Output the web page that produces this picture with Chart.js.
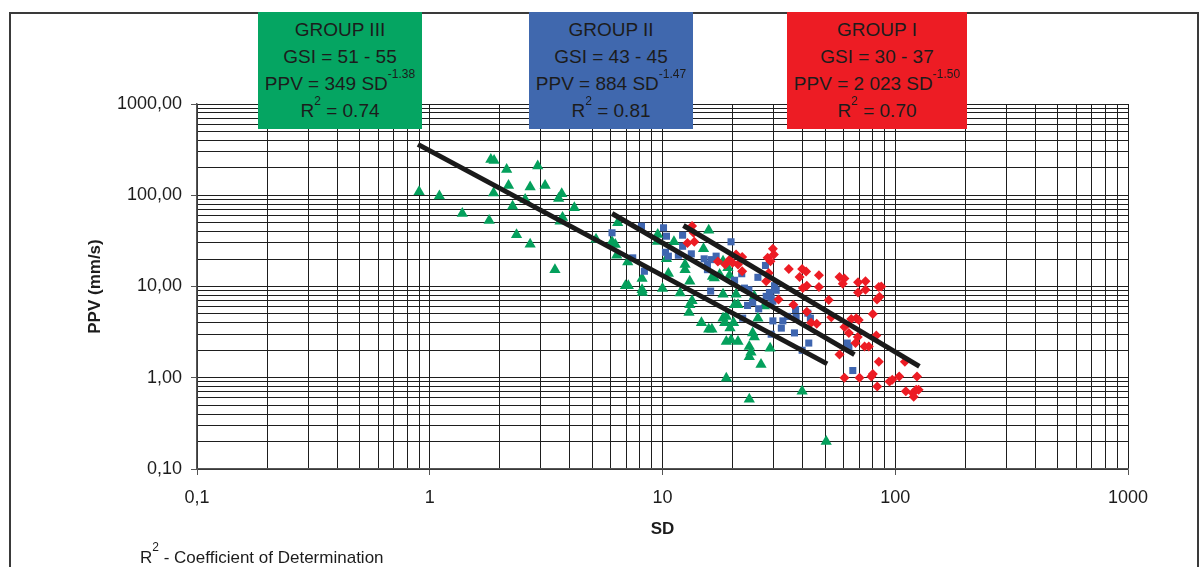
<!DOCTYPE html>
<html lang="en">
<head>
    <meta charset="UTF-8">
    <title>PPV vs SD</title>
    <script src="https://cdn.jsdelivr.net/npm/chart.js"></script>
    <style>
        body {
            margin: 0;
            background: #ffffff;
            font-family: "Liberation Sans", Arial, sans-serif;
        }
        #wrap {
            position: relative;
            width: 1199px;
            height: 567px;
            overflow: hidden;
        }
        #frame {
            position: absolute;
            left: 9px;
            top: 12px;
            width: 1186px;
            height: 600px;
            border: 2px solid #3a3a3a;
            pointer-events: none;
        }
        .box {
            position: absolute;
            top: 12px;
            height: 117px;
            padding-top: 4px;
            box-sizing: border-box;
            text-align: center;
            font-size: 19px;
            line-height: 27px;
            color: #1c1c1c;
            white-space: nowrap;
        }
        .box sup, .note sup {
            font-size: 12px;
            line-height: 0;
            position: relative;
            top: -5px;
        }
        #g3 { left: 258px; width: 164px; background: #05a562; }
        #g2 { left: 529px; width: 164px; background: #4068ae; }
        #g1 { left: 787px; width: 180px; background: #ed1c24; }
        .note {
            position: absolute;
            left: 140px;
            top: 548px;
            font-size: 17px;
            color: #1c1c1c;
        }
    </style>
</head>
<body>
<div id="wrap">
    <canvas id="chart" width="1199" height="567"></canvas>
    <div id="frame"></div>
    <div class="box" id="g3">GROUP III<br>GSI = 51 - 55<br>PPV = 349 SD<sup>-1.38</sup><br>R<sup>2</sup> = 0.74</div>
    <div class="box" id="g2">GROUP II<br>GSI = 43 - 45<br>PPV = 884 SD<sup>-1.47</sup><br>R<sup>2</sup> = 0.81</div>
    <div class="box" id="g1">GROUP I<br>GSI = 30 - 37<br>PPV = 2 023 SD<sup>-1.50</sup><br>R<sup>2</sup> = 0.70</div>
    <div class="note">R<sup>2</sup> - Coefficient of Determination</div>
</div>
<script>
    // Group III (GSI 51-55), green triangles
    const g3SD = [0.90, 1.10, 1.38, 1.80, 1.83, 1.89, 1.88, 2.14, 2.18, 2.27, 2.36, 2.57, 2.70, 2.70, 2.91, 3.13, 3.45, 3.58, 3.69, 3.72, 3.63, 4.18, 5.18,
        6.42, 6.07, 6.27, 6.36, 7.09, 6.93, 7.13, 8.17, 8.17, 8.19, 9.54, 9.51, 10.0, 10.4, 10.6, 11.2, 11.9, 12.5, 12.5, 13.1, 13.4, 13.1, 13.0, 14.7,
        15.8, 16.3, 15.0, 15.8, 16.4, 18.2, 19.1, 17.6, 19.4, 16.7, 18.2, 20.7, 21.1, 20.4, 24.8, 27.4, 25.7, 18.2, 18.8, 18.5, 19.5, 20.2, 24.4, 24.8,
        18.8, 19.7, 21.1, 23.6, 24.0, 23.6, 29.0, 26.5, 18.8, 23.6, 39.8, 50.5];
    const g3PPV = [109, 98, 63, 53, 247, 241, 106, 192, 128, 76, 37, 90, 123, 29, 209, 128, 15.3, 92, 104, 57, 52, 73, 33,
        50, 30.9, 28.8, 22.0, 18.6, 10.2, 10.2, 12.2, 9.2, 8.6, 37.1, 31.1, 9.5, 20.1, 13.9, 30.9, 8.5, 17.4, 15.3, 11.4, 7.0, 6.3, 5.2, 4.0,
        3.4, 3.4, 25.9, 41.4, 12.9, 18.9, 16.0, 13.5, 13.2, 12.4, 8.2, 8.2, 6.3, 6.3, 7.8, 6.1, 4.5, 4.5, 4.7, 4.0, 3.5, 4.0, 3.1, 2.8,
        2.5, 2.6, 2.5, 2.2, 1.9, 1.7, 2.1, 1.4, 0.99, 0.58, 0.71, 0.20];

    // Group II (GSI 43-45), blue squares
    const g2SD = [6.07, 8.12, 7.45, 8.36, 10.1, 10.4, 10.3, 10.6, 11.7, 12.2, 12.2, 13.3, 15.1, 15.6, 15.6, 17.0, 16.1, 19.7, 16.2, 21.9, 20.4,
        27.7, 25.7, 22.5, 23.5, 30.3, 30.8, 28.8, 29.3, 29.8, 24.4, 23.2, 25.9, 22.1, 29.8, 32.9, 32.4, 37.3, 34.5, 36.9, 42.1, 43.2, 42.5,
        39.8, 62.2, 65.7, 37.5, 27.9, 63.2, 29.3];
    const g2PPV = [38.8, 45.8, 20.6, 14.7, 44.0, 35.6, 23.7, 21.5, 22.0, 36.5, 27.6, 22.8, 20.1, 17.4, 15.3, 21.5, 8.9, 30.9, 19.7, 13.8, 11.7,
        17.0, 12.6, 9.6, 9.2, 10.2, 9.1, 8.6, 7.5, 6.9, 6.7, 6.2, 5.7, 4.5, 4.2, 4.2, 3.5, 5.6, 4.7, 3.1, 5.1, 4.5, 2.4,
        2.0, 2.4, 1.2, 4.6, 7.8, 2.2, 3.0];

    // Group I (GSI 30-37), red diamonds
    const g1SD = [13.4, 12.8, 13.7, 13.6, 17.3, 18.6, 19.4, 20.7, 22.0, 21.1, 20.0, 22.0, 29.8, 30.1, 28.3, 29.1, 28.6, 27.9, 34.9, 39.8, 41.4,
        38.8, 47.0, 57.6, 60.5, 59.5, 40.1, 41.7, 47.0, 69.2, 74.5, 69.2, 74.5, 85.0, 87.1, 85.6, 83.5, 51.8, 31.5, 36.5, 41.7, 43.5, 46.0,
        80.1, 53.1, 64.7, 68.0, 69.7, 60.5, 63.2, 69.0, 67.5, 82.9, 77.0, 73.8, 57.6, 85.0, 110, 60.5, 70.2, 78.9, 80.1, 83.7, 94.5, 97.1,
        104, 124, 111, 119, 123, 120, 126];
    const g1PPV = [46, 30, 31, 38.8, 18.8, 17.4, 19.7, 22.4, 21.1, 17.4, 18.2, 14.7, 25.9, 22.4, 20.6, 18.9, 14.1, 11.4, 15.6, 15.6, 14.6,
        12.7, 13.3, 12.7, 12.2, 10.7, 9.6, 10.2, 9.9, 11.1, 11.4, 8.6, 9.2, 9.9, 10.0, 7.7, 7.2, 7.1, 7.2, 6.3, 5.3, 4.0, 3.9,
        5.0, 4.6, 4.4, 4.5, 4.3, 3.6, 3.1, 2.8, 2.4, 2.9, 2.2, 2.2, 1.8, 1.5, 1.5, 1.0, 1.0, 1.03, 1.1, 0.80, 0.91, 0.95,
        1.03, 1.03, 0.71, 0.68, 0.74, 0.62, 0.74];

    // fitted trend lines, end points
    const fit3SD = [0.89, 51];
    const fit3PPV = [361, 1.42];
    const fit2SD = [6.07, 66.8];
    const fit2PPV = [63.1, 1.79];
    const fit1SD = [12.3, 127];
    const fit1PPV = [46.6, 1.33];

    // axis labels
    const xMajor = [0.1, 1, 10, 100, 1000];
    const xTickLabels = ['0,1', '1', '10', '100', '1000'];
    const yMajor = [0.1, 1, 10, 100, 1000];
    const yTickLabels = ['0,10', '1,00', '10,00', '100,00', '1000,00'];
    const steps = [1, 2, 3, 4, 5, 6, 7, 8, 9];

    function gridValues(decades) {
        const out = [];
        for (let i = 0; i < decades.length - 1; i++) {
            steps.forEach(s => out.push(+(decades[i] * s).toPrecision(3)));
        }
        out.push(decades[decades.length - 1]);
        return out;
    }
    const xGrid = gridValues(xMajor);
    const yGrid = gridValues(yMajor);

    function isMajor(list, v) {
        return list.some(m => Math.abs(m - v) < m * 1e-6);
    }
    function labelFor(list, labels, v) {
        const i = list.findIndex(m => Math.abs(m - v) < m * 1e-6);
        return i >= 0 ? labels[i] : '';
    }
    const pts = (xs, ys) => xs.map((x, i) => ({x: x, y: ys[i]}));

    const fitStyle = {
        type: 'line',
        showLine: true,
        borderColor: '#1a1a1a',
        borderWidth: 5,
        pointRadius: 0,
        fill: false
    };

    const tickFont = {family: '"Liberation Sans", Arial, sans-serif', size: 18};
    const titleFont = {family: '"Liberation Sans", Arial, sans-serif', size: 17, weight: 'bold'};

    new Chart(document.getElementById('chart'), {
        type: 'scatter',
        data: {
            datasets: [
                Object.assign({label: 'fit I', data: pts(fit1SD, fit1PPV)}, fitStyle),
                Object.assign({label: 'fit II', data: pts(fit2SD, fit2PPV)}, fitStyle),
                Object.assign({label: 'fit III', data: pts(fit3SD, fit3PPV)}, fitStyle),
                {
                    label: 'Group I',
                    data: pts(g1SD, g1PPV),
                    pointStyle: 'rectRot',
                    pointRadius: 5,
                    backgroundColor: '#ed1c24',
                    borderColor: '#ed1c24',
                    borderWidth: 0
                },
                {
                    label: 'Group II',
                    data: pts(g2SD, g2PPV),
                    pointStyle: 'rect',
                    pointRadius: 5,
                    backgroundColor: '#3f66b0',
                    borderColor: '#3f66b0',
                    borderWidth: 0
                },
                {
                    label: 'Group III',
                    data: pts(g3SD, g3PPV),
                    pointStyle: 'triangle',
                    pointRadius: 6.5,
                    backgroundColor: '#04a05c',
                    borderColor: '#04a05c',
                    borderWidth: 0
                }
            ]
        },
        options: {
            responsive: false,
            animation: false,
            devicePixelRatio: 1,
            layout: {padding: {left: 0, top: 104, right: 71, bottom: 0}},
            plugins: {
                legend: {display: false},
                tooltip: {enabled: false}
            },
            scales: {
                x: {
                    type: 'logarithmic',
                    min: 0.1,
                    max: 1000,
                    afterBuildTicks: s => { s.ticks = xGrid.map(v => ({value: v})); },
                    afterFit: s => { s.height = 98; },
                    ticks: {
                        autoSkip: false,
                        maxRotation: 0,
                        padding: 12,
                        color: '#1c1c1c',
                        font: tickFont,
                        callback: v => labelFor(xMajor, xTickLabels, v)
                    },
                    grid: {
                        color: '#1e1e1e',
                        lineWidth: 1,
                        tickLength: 6,
                        tickColor: c => (c.tick && isMajor(xMajor, c.tick.value)) ? '#555555' : 'rgba(0,0,0,0)'
                    },
                    border: {color: '#555555', width: 1.5},
                    title: {
                        display: true,
                        text: 'SD',
                        color: '#1c1c1c',
                        font: titleFont,
                        padding: {top: 0, bottom: 27}
                    }
                },
                y: {
                    type: 'logarithmic',
                    min: 0.1,
                    max: 1000,
                    afterBuildTicks: s => { s.ticks = yGrid.map(v => ({value: v})); },
                    afterFit: s => { s.width = 197; },
                    ticks: {
                        autoSkip: false,
                        padding: 9,
                        color: '#1c1c1c',
                        font: tickFont,
                        callback: v => labelFor(yMajor, yTickLabels, v)
                    },
                    grid: {
                        color: '#1e1e1e',
                        lineWidth: 1,
                        tickLength: 6,
                        tickColor: c => (c.tick && isMajor(yMajor, c.tick.value)) ? '#555555' : 'rgba(0,0,0,0)'
                    },
                    border: {color: '#555555', width: 1.5},
                    title: {
                        display: true,
                        text: 'PPV (mm/s)',
                        color: '#1c1c1c',
                        font: titleFont,
                        padding: {top: 85, bottom: 0}
                    }
                }
            }
        }
    });
</script>
</body>
</html>
